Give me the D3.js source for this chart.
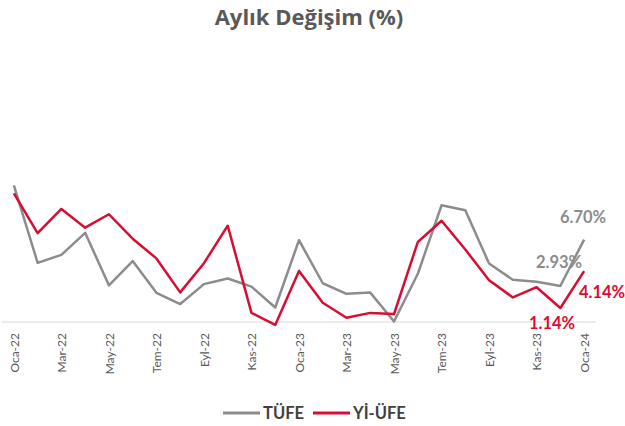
<!DOCTYPE html>
<html>
<head>
<meta charset="utf-8">
<script src="https://cdn.jsdelivr.net/npm/d3@7"></script>
<style>
  body { margin: 0; background: #fff; }
  svg { display: block; font-family: Lato, "Open Sans", sans-serif; }
</style>
</head>
<body>
<svg id="chart" width="625" height="426"></svg>
<script>
// monthly change, Oca-22 .. Oca-24
const months = ["Oca-22","Şub-22","Mar-22","Nis-22","May-22","Haz-22","Tem-22","Ağu-22","Eyl-22","Eki-22","Kas-22","Ara-22",
                "Oca-23","Şub-23","Mar-23","Nis-23","May-23","Haz-23","Tem-23","Ağu-23","Eyl-23","Eki-23","Kas-23","Ara-23","Oca-24"];
const tufe = [11.10, 4.81, 5.46, 7.25, 2.98, 4.95, 2.37, 1.46, 3.08, 3.54, 2.88, 1.18,
              6.65, 3.15, 2.29, 2.39, 0.04, 3.92, 9.49, 9.09, 4.75, 3.43, 3.28, 2.93, 6.70];
const yiufe = [10.45, 7.22, 9.19, 7.67, 8.76, 6.77, 5.17, 2.41, 4.78, 7.83, 0.74, -0.24,
               4.15, 1.56, 0.35, 0.74, 0.65, 6.50, 8.23, 5.89, 3.40, 2.00, 2.83, 1.14, 4.14];
const tickLabels = months.filter((d, i) => i % 2 === 0);

const svg = d3.select("#chart");
const grey = "#8c8c8c", red = "#d90d32", textCol = "#595959";

const x = d3.scalePoint().domain(months).range([2, 596]).padding(0.5);
const y = d3.scaleLinear().domain([0, 12]).range([322, 174.4]);

// title
svg.append("text")
    .attr("x", 309).attr("y", 25)
    .attr("text-anchor", "middle")
    .style("font-family", "'Open Sans', sans-serif")
    .style("font-size", "22px").style("font-weight", "bold")
    .attr("fill", textCol)
    .text("Aylık Değişim (%)");

// x axis
const xAxis = d3.axisBottom(x).tickValues(tickLabels).tickSize(0).tickPadding(0);
const gx = svg.append("g").attr("transform", `translate(0,${y(0)})`).call(xAxis);
gx.select(".domain").attr("stroke", "#d9d9d9").attr("stroke-width", 1)
    .attr("d", "M2,0H596");
gx.selectAll("text")
    .attr("transform", "rotate(-90)")
    .attr("x", -11).attr("y", 0).attr("dy", "0.35em")
    .attr("text-anchor", "end")
    .attr("fill", textCol)
    .style("font-size", "12px")
    .style("font-family", "Lato, sans-serif");

const line = d3.line().x((d, i) => x(months[i])).y(d => y(d));

svg.append("path").datum(tufe)
    .attr("d", line).attr("fill", "none")
    .attr("stroke", grey).attr("stroke-width", 2.5).attr("stroke-linejoin", "round");
svg.append("path").datum(yiufe)
    .attr("d", line).attr("fill", "none")
    .attr("stroke", red).attr("stroke-width", 2.5).attr("stroke-linejoin", "round");

// data labels
const labels = [
    { text: tufe[24].toFixed(2) + "%", x: 583, y: 223, color: grey },
    { text: tufe[23].toFixed(2) + "%", x: 559, y: 268, color: grey },
    { text: yiufe[24].toFixed(2) + "%", x: 602, y: 298, color: red },
    { text: yiufe[23].toFixed(2) + "%", x: 552, y: 329, color: red }
];
svg.selectAll(".dlabel").data(labels).join("text")
    .attr("class", "dlabel")
    .attr("x", d => d.x).attr("y", d => d.y)
    .attr("text-anchor", "middle")
    .style("font-size", "16.5px").style("font-weight", "bold")
    .attr("fill", d => d.color)
    .text(d => d.text);

// legend
const legend = [
    { name: "TÜFE", color: grey, x: 223 },
    { name: "Yİ-ÜFE", color: red, x: 313 }
];
const lg = svg.selectAll(".legend").data(legend).join("g")
    .attr("class", "legend")
    .attr("transform", d => `translate(${d.x},413)`);
lg.append("line").attr("x1", 0).attr("x2", 37)
    .attr("stroke", d => d.color).attr("stroke-width", 3);
lg.append("text").attr("x", 40).attr("dy", "0.35em")
    .style("font-size", "16.5px").style("font-weight", "bold")
    .attr("fill", "#404040")
    .text(d => d.name);
</script>
</body>
</html>
